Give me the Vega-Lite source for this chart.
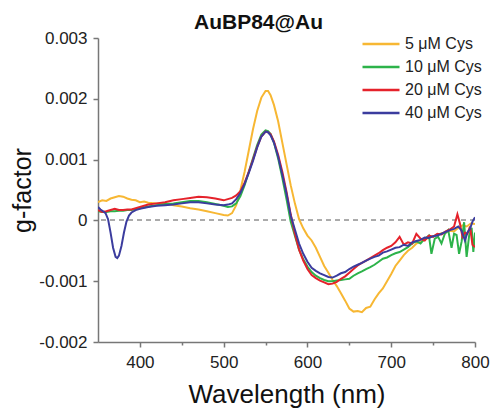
{
  "$schema": "https://vega.github.io/schema/vega-lite/v6.json",
  "width": 377,
  "height": 304,
  "autosize": {"type": "none"},
  "padding": {"left": 98, "top": 38, "right": 15, "bottom": 66},
  "background": "white",
  "config": {
    "view": {"stroke": null},
    "font": "Liberation Sans",
    "axis": {"domainColor": "#777", "tickColor": "#777", "domainWidth": 1.5, "tickWidth": 1.5, "labelColor": "#222", "titleColor": "#111", "grid": false, "labelFont": "Liberation Sans", "titleFont": "Liberation Sans", "titleFontWeight": "normal"}
  },
  "title": {"text": "AuBP84@Au", "fontSize": 21, "fontWeight": "bold", "font": "Liberation Sans", "color": "#111", "anchor": "middle", "dx": -28, "offset": -4},
  "data": {"values": [
    {"s":"5 μM Cys","w":350,"g":0.00030},{"s":"5 μM Cys","w":355,"g":0.00033},{"s":"5 μM Cys","w":360,"g":0.00032},{"s":"5 μM Cys","w":365,"g":0.00036},{"s":"5 μM Cys","w":370,"g":0.00038},{"s":"5 μM Cys","w":375,"g":0.00040},{"s":"5 μM Cys","w":380,"g":0.00039},{"s":"5 μM Cys","w":385,"g":0.00036},{"s":"5 μM Cys","w":390,"g":0.00034},{"s":"5 μM Cys","w":395,"g":0.00033},{"s":"5 μM Cys","w":400,"g":0.00030},{"s":"5 μM Cys","w":405,"g":0.00031},{"s":"5 μM Cys","w":410,"g":0.00029},{"s":"5 μM Cys","w":420,"g":0.00028},{"s":"5 μM Cys","w":430,"g":0.00028},{"s":"5 μM Cys","w":440,"g":0.00025},{"s":"5 μM Cys","w":450,"g":0.00023},{"s":"5 μM Cys","w":460,"g":0.00020},{"s":"5 μM Cys","w":470,"g":0.00018},{"s":"5 μM Cys","w":480,"g":0.00015},{"s":"5 μM Cys","w":490,"g":0.00012},{"s":"5 μM Cys","w":500,"g":0.00009},{"s":"5 μM Cys","w":505,"g":0.00008},{"s":"5 μM Cys","w":510,"g":0.00012},{"s":"5 μM Cys","w":515,"g":0.00025},{"s":"5 μM Cys","w":520,"g":0.00050},{"s":"5 μM Cys","w":525,"g":0.00080},{"s":"5 μM Cys","w":530,"g":0.00115},{"s":"5 μM Cys","w":535,"g":0.00150},{"s":"5 μM Cys","w":540,"g":0.00180},{"s":"5 μM Cys","w":545,"g":0.00202},{"s":"5 μM Cys","w":550,"g":0.00213},{"s":"5 μM Cys","w":553,"g":0.00213},{"s":"5 μM Cys","w":556,"g":0.00206},{"s":"5 μM Cys","w":560,"g":0.00190},{"s":"5 μM Cys","w":565,"g":0.00163},{"s":"5 μM Cys","w":570,"g":0.00128},{"s":"5 μM Cys","w":575,"g":0.00093},{"s":"5 μM Cys","w":580,"g":0.00058},{"s":"5 μM Cys","w":585,"g":0.00028},{"s":"5 μM Cys","w":590,"g":0.00002},{"s":"5 μM Cys","w":595,"g":-0.00013},{"s":"5 μM Cys","w":600,"g":-0.00025},{"s":"5 μM Cys","w":605,"g":-0.00033},{"s":"5 μM Cys","w":610,"g":-0.00045},{"s":"5 μM Cys","w":615,"g":-0.00060},{"s":"5 μM Cys","w":620,"g":-0.00075},{"s":"5 μM Cys","w":625,"g":-0.00086},{"s":"5 μM Cys","w":630,"g":-0.00098},{"s":"5 μM Cys","w":635,"g":-0.00108},{"s":"5 μM Cys","w":640,"g":-0.00120},{"s":"5 μM Cys","w":645,"g":-0.00132},{"s":"5 μM Cys","w":650,"g":-0.00145},{"s":"5 μM Cys","w":655,"g":-0.00150},{"s":"5 μM Cys","w":660,"g":-0.00149},{"s":"5 μM Cys","w":665,"g":-0.00151},{"s":"5 μM Cys","w":670,"g":-0.00144},{"s":"5 μM Cys","w":675,"g":-0.00142},{"s":"5 μM Cys","w":680,"g":-0.00130},{"s":"5 μM Cys","w":685,"g":-0.00120},{"s":"5 μM Cys","w":690,"g":-0.00112},{"s":"5 μM Cys","w":695,"g":-0.00100},{"s":"5 μM Cys","w":700,"g":-0.00088},{"s":"5 μM Cys","w":705,"g":-0.00075},{"s":"5 μM Cys","w":710,"g":-0.00066},{"s":"5 μM Cys","w":715,"g":-0.00057},{"s":"5 μM Cys","w":720,"g":-0.00050},{"s":"5 μM Cys","w":725,"g":-0.00045},{"s":"5 μM Cys","w":730,"g":-0.00038},{"s":"5 μM Cys","w":735,"g":-0.00035},{"s":"5 μM Cys","w":740,"g":-0.00032},{"s":"5 μM Cys","w":745,"g":-0.00028},{"s":"5 μM Cys","w":750,"g":-0.00026},{"s":"5 μM Cys","w":755,"g":-0.00024},{"s":"5 μM Cys","w":760,"g":-0.00021},{"s":"5 μM Cys","w":765,"g":-0.00020},{"s":"5 μM Cys","w":770,"g":-0.00017},{"s":"5 μM Cys","w":775,"g":-0.00018},{"s":"5 μM Cys","w":780,"g":-0.00012},{"s":"5 μM Cys","w":785,"g":-0.00008},{"s":"5 μM Cys","w":790,"g":-0.00010},{"s":"5 μM Cys","w":795,"g":-0.00005},{"s":"5 μM Cys","w":800,"g":-0.00006},

    {"s":"10 μM Cys","w":350,"g":0.00015},{"s":"10 μM Cys","w":355,"g":0.00014},{"s":"10 μM Cys","w":360,"g":0.00014},{"s":"10 μM Cys","w":365,"g":0.00015},{"s":"10 μM Cys","w":370,"g":0.00015},{"s":"10 μM Cys","w":375,"g":0.00016},{"s":"10 μM Cys","w":380,"g":0.00016},{"s":"10 μM Cys","w":385,"g":0.00017},{"s":"10 μM Cys","w":390,"g":0.00017},{"s":"10 μM Cys","w":400,"g":0.00020},{"s":"10 μM Cys","w":410,"g":0.00023},{"s":"10 μM Cys","w":420,"g":0.00025},{"s":"10 μM Cys","w":430,"g":0.00027},{"s":"10 μM Cys","w":440,"g":0.00028},{"s":"10 μM Cys","w":450,"g":0.00030},{"s":"10 μM Cys","w":460,"g":0.00032},{"s":"10 μM Cys","w":470,"g":0.00032},{"s":"10 μM Cys","w":480,"g":0.00030},{"s":"10 μM Cys","w":490,"g":0.00027},{"s":"10 μM Cys","w":500,"g":0.00024},{"s":"10 μM Cys","w":505,"g":0.00022},{"s":"10 μM Cys","w":510,"g":0.00023},{"s":"10 μM Cys","w":515,"g":0.00028},{"s":"10 μM Cys","w":520,"g":0.00040},{"s":"10 μM Cys","w":525,"g":0.00058},{"s":"10 μM Cys","w":530,"g":0.00080},{"s":"10 μM Cys","w":535,"g":0.00102},{"s":"10 μM Cys","w":540,"g":0.00124},{"s":"10 μM Cys","w":545,"g":0.00141},{"s":"10 μM Cys","w":550,"g":0.00148},{"s":"10 μM Cys","w":553,"g":0.00147},{"s":"10 μM Cys","w":556,"g":0.00142},{"s":"10 μM Cys","w":560,"g":0.00128},{"s":"10 μM Cys","w":565,"g":0.00102},{"s":"10 μM Cys","w":570,"g":0.00070},{"s":"10 μM Cys","w":575,"g":0.00035},{"s":"10 μM Cys","w":580,"g":-0.00002},{"s":"10 μM Cys","w":585,"g":-0.00025},{"s":"10 μM Cys","w":590,"g":-0.00048},{"s":"10 μM Cys","w":595,"g":-0.00064},{"s":"10 μM Cys","w":600,"g":-0.00076},{"s":"10 μM Cys","w":605,"g":-0.00085},{"s":"10 μM Cys","w":610,"g":-0.00091},{"s":"10 μM Cys","w":615,"g":-0.00095},{"s":"10 μM Cys","w":620,"g":-0.00098},{"s":"10 μM Cys","w":625,"g":-0.00100},{"s":"10 μM Cys","w":630,"g":-0.00100},{"s":"10 μM Cys","w":635,"g":-0.00099},{"s":"10 μM Cys","w":640,"g":-0.00098},{"s":"10 μM Cys","w":645,"g":-0.00097},{"s":"10 μM Cys","w":650,"g":-0.00096},{"s":"10 μM Cys","w":655,"g":-0.00091},{"s":"10 μM Cys","w":660,"g":-0.00087},{"s":"10 μM Cys","w":665,"g":-0.00084},{"s":"10 μM Cys","w":670,"g":-0.00080},{"s":"10 μM Cys","w":675,"g":-0.00077},{"s":"10 μM Cys","w":680,"g":-0.00073},{"s":"10 μM Cys","w":685,"g":-0.00068},{"s":"10 μM Cys","w":690,"g":-0.00063},{"s":"10 μM Cys","w":695,"g":-0.00061},{"s":"10 μM Cys","w":700,"g":-0.00057},{"s":"10 μM Cys","w":705,"g":-0.00054},{"s":"10 μM Cys","w":710,"g":-0.00052},{"s":"10 μM Cys","w":715,"g":-0.00048},{"s":"10 μM Cys","w":720,"g":-0.00044},{"s":"10 μM Cys","w":725,"g":-0.00038},{"s":"10 μM Cys","w":730,"g":-0.00034},{"s":"10 μM Cys","w":735,"g":-0.00038},{"s":"10 μM Cys","w":740,"g":-0.00030},{"s":"10 μM Cys","w":745,"g":-0.00025},{"s":"10 μM Cys","w":748,"g":-0.00055},{"s":"10 μM Cys","w":752,"g":-0.00030},{"s":"10 μM Cys","w":756,"g":-0.00027},{"s":"10 μM Cys","w":760,"g":-0.00038},{"s":"10 μM Cys","w":764,"g":-0.00022},{"s":"10 μM Cys","w":768,"g":-0.00016},{"s":"10 μM Cys","w":772,"g":-0.00045},{"s":"10 μM Cys","w":775,"g":-0.00022},{"s":"10 μM Cys","w":778,"g":-0.00024},{"s":"10 μM Cys","w":781,"g":-0.00055},{"s":"10 μM Cys","w":784,"g":-0.00035},{"s":"10 μM Cys","w":787,"g":-0.00003},{"s":"10 μM Cys","w":790,"g":-0.00060},{"s":"10 μM Cys","w":793,"g":-0.00025},{"s":"10 μM Cys","w":796,"g":-0.00012},{"s":"10 μM Cys","w":798,"g":-0.00052},{"s":"10 μM Cys","w":800,"g":-0.00020},

    {"s":"20 μM Cys","w":350,"g":0.00017},{"s":"20 μM Cys","w":355,"g":0.00014},{"s":"20 μM Cys","w":360,"g":0.00015},{"s":"20 μM Cys","w":365,"g":0.00017},{"s":"20 μM Cys","w":370,"g":0.00019},{"s":"20 μM Cys","w":375,"g":0.00017},{"s":"20 μM Cys","w":380,"g":0.00017},{"s":"20 μM Cys","w":385,"g":0.00018},{"s":"20 μM Cys","w":390,"g":0.00018},{"s":"20 μM Cys","w":400,"g":0.00022},{"s":"20 μM Cys","w":410,"g":0.00026},{"s":"20 μM Cys","w":420,"g":0.00028},{"s":"20 μM Cys","w":430,"g":0.00030},{"s":"20 μM Cys","w":440,"g":0.00033},{"s":"20 μM Cys","w":450,"g":0.00035},{"s":"20 μM Cys","w":460,"g":0.00037},{"s":"20 μM Cys","w":470,"g":0.00039},{"s":"20 μM Cys","w":480,"g":0.00038},{"s":"20 μM Cys","w":490,"g":0.00036},{"s":"20 μM Cys","w":500,"g":0.00033},{"s":"20 μM Cys","w":505,"g":0.00035},{"s":"20 μM Cys","w":510,"g":0.00037},{"s":"20 μM Cys","w":515,"g":0.00041},{"s":"20 μM Cys","w":520,"g":0.00048},{"s":"20 μM Cys","w":525,"g":0.00062},{"s":"20 μM Cys","w":530,"g":0.00080},{"s":"20 μM Cys","w":535,"g":0.00100},{"s":"20 μM Cys","w":540,"g":0.00121},{"s":"20 μM Cys","w":545,"g":0.00138},{"s":"20 μM Cys","w":550,"g":0.00146},{"s":"20 μM Cys","w":553,"g":0.00145},{"s":"20 μM Cys","w":556,"g":0.00142},{"s":"20 μM Cys","w":560,"g":0.00130},{"s":"20 μM Cys","w":565,"g":0.00108},{"s":"20 μM Cys","w":570,"g":0.00080},{"s":"20 μM Cys","w":575,"g":0.00047},{"s":"20 μM Cys","w":580,"g":0.00010},{"s":"20 μM Cys","w":585,"g":-0.00022},{"s":"20 μM Cys","w":590,"g":-0.00048},{"s":"20 μM Cys","w":595,"g":-0.00066},{"s":"20 μM Cys","w":600,"g":-0.00080},{"s":"20 μM Cys","w":605,"g":-0.00090},{"s":"20 μM Cys","w":610,"g":-0.00095},{"s":"20 μM Cys","w":615,"g":-0.00099},{"s":"20 μM Cys","w":620,"g":-0.00102},{"s":"20 μM Cys","w":625,"g":-0.00105},{"s":"20 μM Cys","w":630,"g":-0.00104},{"s":"20 μM Cys","w":635,"g":-0.00101},{"s":"20 μM Cys","w":640,"g":-0.00096},{"s":"20 μM Cys","w":645,"g":-0.00092},{"s":"20 μM Cys","w":650,"g":-0.00086},{"s":"20 μM Cys","w":655,"g":-0.00080},{"s":"20 μM Cys","w":660,"g":-0.00074},{"s":"20 μM Cys","w":665,"g":-0.00070},{"s":"20 μM Cys","w":670,"g":-0.00066},{"s":"20 μM Cys","w":675,"g":-0.00062},{"s":"20 μM Cys","w":680,"g":-0.00058},{"s":"20 μM Cys","w":685,"g":-0.00054},{"s":"20 μM Cys","w":690,"g":-0.00049},{"s":"20 μM Cys","w":695,"g":-0.00045},{"s":"20 μM Cys","w":700,"g":-0.00042},{"s":"20 μM Cys","w":705,"g":-0.00036},{"s":"20 μM Cys","w":710,"g":-0.00027},{"s":"20 μM Cys","w":715,"g":-0.00040},{"s":"20 μM Cys","w":720,"g":-0.00036},{"s":"20 μM Cys","w":725,"g":-0.00038},{"s":"20 μM Cys","w":730,"g":-0.00022},{"s":"20 μM Cys","w":735,"g":-0.00030},{"s":"20 μM Cys","w":740,"g":-0.00033},{"s":"20 μM Cys","w":745,"g":-0.00025},{"s":"20 μM Cys","w":750,"g":-0.00027},{"s":"20 μM Cys","w":755,"g":-0.00022},{"s":"20 μM Cys","w":760,"g":-0.00023},{"s":"20 μM Cys","w":765,"g":-0.00018},{"s":"20 μM Cys","w":770,"g":-0.00015},{"s":"20 μM Cys","w":775,"g":-0.00010},{"s":"20 μM Cys","w":779,"g":0.00010},{"s":"20 μM Cys","w":782,"g":-0.00005},{"s":"20 μM Cys","w":785,"g":-0.00027},{"s":"20 μM Cys","w":788,"g":-0.00020},{"s":"20 μM Cys","w":791,"g":-0.00022},{"s":"20 μM Cys","w":794,"g":-0.00010},{"s":"20 μM Cys","w":797,"g":-0.00040},{"s":"20 μM Cys","w":800,"g":-0.00044},

    {"s":"40 μM Cys","w":350,"g":0.00022},{"s":"40 μM Cys","w":353,"g":0.00018},{"s":"40 μM Cys","w":356,"g":0.00015},{"s":"40 μM Cys","w":359,"g":0.00012},{"s":"40 μM Cys","w":362,"g":0.00002},{"s":"40 μM Cys","w":365,"g":-0.00020},{"s":"40 μM Cys","w":368,"g":-0.00045},{"s":"40 μM Cys","w":371,"g":-0.00060},{"s":"40 μM Cys","w":373,"g":-0.00062},{"s":"40 μM Cys","w":375,"g":-0.00058},{"s":"40 μM Cys","w":378,"g":-0.00042},{"s":"40 μM Cys","w":381,"g":-0.00020},{"s":"40 μM Cys","w":384,"g":-0.00002},{"s":"40 μM Cys","w":387,"g":0.00008},{"s":"40 μM Cys","w":390,"g":0.00013},{"s":"40 μM Cys","w":395,"g":0.00017},{"s":"40 μM Cys","w":400,"g":0.00019},{"s":"40 μM Cys","w":410,"g":0.00022},{"s":"40 μM Cys","w":420,"g":0.00024},{"s":"40 μM Cys","w":430,"g":0.00025},{"s":"40 μM Cys","w":440,"g":0.00026},{"s":"40 μM Cys","w":450,"g":0.00028},{"s":"40 μM Cys","w":460,"g":0.00030},{"s":"40 μM Cys","w":470,"g":0.00030},{"s":"40 μM Cys","w":480,"g":0.00028},{"s":"40 μM Cys","w":490,"g":0.00026},{"s":"40 μM Cys","w":500,"g":0.00025},{"s":"40 μM Cys","w":505,"g":0.00026},{"s":"40 μM Cys","w":510,"g":0.00028},{"s":"40 μM Cys","w":515,"g":0.00035},{"s":"40 μM Cys","w":520,"g":0.00045},{"s":"40 μM Cys","w":525,"g":0.00060},{"s":"40 μM Cys","w":530,"g":0.00078},{"s":"40 μM Cys","w":535,"g":0.00098},{"s":"40 μM Cys","w":540,"g":0.00120},{"s":"40 μM Cys","w":545,"g":0.00138},{"s":"40 μM Cys","w":550,"g":0.00146},{"s":"40 μM Cys","w":553,"g":0.00145},{"s":"40 μM Cys","w":556,"g":0.00140},{"s":"40 μM Cys","w":560,"g":0.00128},{"s":"40 μM Cys","w":565,"g":0.00105},{"s":"40 μM Cys","w":570,"g":0.00075},{"s":"40 μM Cys","w":575,"g":0.00044},{"s":"40 μM Cys","w":580,"g":0.00008},{"s":"40 μM Cys","w":585,"g":-0.00015},{"s":"40 μM Cys","w":590,"g":-0.00038},{"s":"40 μM Cys","w":595,"g":-0.00055},{"s":"40 μM Cys","w":600,"g":-0.00068},{"s":"40 μM Cys","w":605,"g":-0.00078},{"s":"40 μM Cys","w":610,"g":-0.00083},{"s":"40 μM Cys","w":615,"g":-0.00087},{"s":"40 μM Cys","w":620,"g":-0.00090},{"s":"40 μM Cys","w":625,"g":-0.00093},{"s":"40 μM Cys","w":630,"g":-0.00094},{"s":"40 μM Cys","w":635,"g":-0.00091},{"s":"40 μM Cys","w":640,"g":-0.00087},{"s":"40 μM Cys","w":645,"g":-0.00085},{"s":"40 μM Cys","w":650,"g":-0.00080},{"s":"40 μM Cys","w":655,"g":-0.00076},{"s":"40 μM Cys","w":660,"g":-0.00073},{"s":"40 μM Cys","w":665,"g":-0.00070},{"s":"40 μM Cys","w":670,"g":-0.00066},{"s":"40 μM Cys","w":675,"g":-0.00063},{"s":"40 μM Cys","w":680,"g":-0.00060},{"s":"40 μM Cys","w":685,"g":-0.00058},{"s":"40 μM Cys","w":690,"g":-0.00053},{"s":"40 μM Cys","w":695,"g":-0.00051},{"s":"40 μM Cys","w":700,"g":-0.00048},{"s":"40 μM Cys","w":705,"g":-0.00045},{"s":"40 μM Cys","w":710,"g":-0.00044},{"s":"40 μM Cys","w":715,"g":-0.00040},{"s":"40 μM Cys","w":720,"g":-0.00042},{"s":"40 μM Cys","w":725,"g":-0.00036},{"s":"40 μM Cys","w":730,"g":-0.00034},{"s":"40 μM Cys","w":735,"g":-0.00032},{"s":"40 μM Cys","w":740,"g":-0.00028},{"s":"40 μM Cys","w":745,"g":-0.00029},{"s":"40 μM Cys","w":750,"g":-0.00026},{"s":"40 μM Cys","w":755,"g":-0.00025},{"s":"40 μM Cys","w":760,"g":-0.00022},{"s":"40 μM Cys","w":765,"g":-0.00019},{"s":"40 μM Cys","w":770,"g":-0.00016},{"s":"40 μM Cys","w":775,"g":-0.00014},{"s":"40 μM Cys","w":780,"g":-0.00010},{"s":"40 μM Cys","w":784,"g":-0.00017},{"s":"40 μM Cys","w":788,"g":-0.00033},{"s":"40 μM Cys","w":791,"g":-0.00020},{"s":"40 μM Cys","w":794,"g":-0.00014},{"s":"40 μM Cys","w":797,"g":-0.00002},{"s":"40 μM Cys","w":800,"g":0.00005}
  ]},
  "layer": [
    {
      "mark": {"type": "rule", "color": "#aaaaaa", "strokeDash": [5, 4], "strokeWidth": 1.3},
      "encoding": {"y": {"datum": 0, "type": "quantitative"}}
    },
    {
      "mark": {"type": "line", "strokeWidth": 2, "clip": true},
      "encoding": {
        "x": {
          "field": "w", "type": "quantitative",
          "scale": {"domain": [350, 800], "nice": false, "zero": false},
          "axis": {
            "title": "Wavelength (nm)", "titleFontSize": 26, "titlePadding": 11,
            "values": [400, 450, 500, 550, 600, 650, 700, 750, 800],
            "labelExpr": "datum.value % 100 == 0 ? format(datum.value, 'd') : ''",
            "labelFontSize": 17, "labelPadding": 7, "labelFlush": false,
            "tickSize": {"condition": {"test": "datum.value % 100 == 0", "value": 5}, "value": 3}
          }
        },
        "y": {
          "field": "g", "type": "quantitative",
          "scale": {"domain": [-0.002, 0.003], "nice": false, "zero": false},
          "axis": {
            "title": "g-factor", "titleFontSize": 25, "titlePadding": 3,
            "values": [-0.002, -0.0015, -0.001, -0.0005, 0, 0.0005, 0.001, 0.0015, 0.002, 0.0025, 0.003],
            "labelExpr": "abs(datum.value*1000 - round(datum.value*1000)) > 0.01 ? '' : (datum.value == 0 ? '0' : (datum.value < 0 ? '-' : '') + format(abs(datum.value), '.3f'))",
            "labelFontSize": 17, "labelPadding": 6, "labelFlush": false,
            "tickSize": {"condition": {"test": "abs(datum.value*1000 - round(datum.value*1000)) > 0.01", "value": 3}, "value": 5}
          }
        },
        "color": {
          "field": "s", "type": "nominal",
          "scale": {"domain": ["5 μM Cys", "10 μM Cys", "20 μM Cys", "40 μM Cys"], "range": ["#F7B733", "#2DB34A", "#E5222B", "#3B3C9E"]},
          "legend": {
            "title": null, "orient": "none", "legendX": 263, "legendY": -4,
            "symbolType": "stroke", "symbolSize": 1369, "symbolStrokeWidth": 2.5, "clipHeight": 20,
            "labelFontSize": 16, "labelFont": "Liberation Sans", "labelColor": "#222", "labelOffset": 4, "rowPadding": 3
          }
        }
      }
    }
  ]
}
